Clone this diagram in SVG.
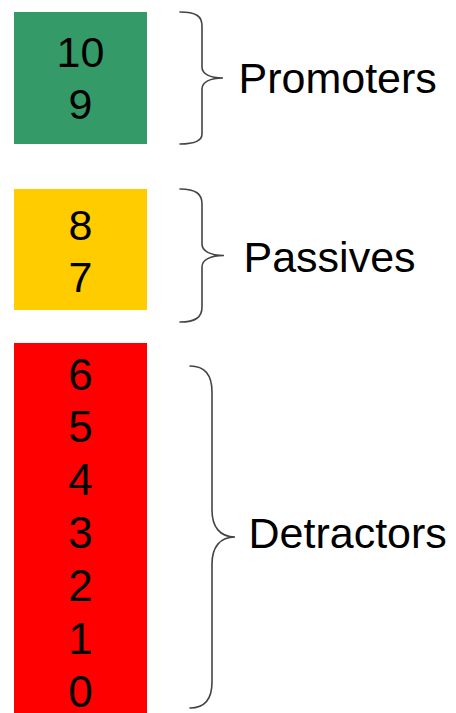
<svg xmlns="http://www.w3.org/2000/svg" width="456" height="713" viewBox="0 0 456 713">
  <style>
    .score { font-family: "Liberation Sans", Arial, sans-serif; font-size: 43px; fill: #000; text-anchor: middle; }
    .score.big { font-size: 44px; }
    .label { font-family: "Liberation Sans", Arial, sans-serif; font-size: 43px; fill: #000; }
    .brace { fill: none; stroke: #444; stroke-width: 1.6; stroke-linecap: round; }
  </style>
  <rect width="456" height="713" fill="#fff"/>

  <!-- score boxes -->
  <g id="promoters">
    <rect x="14" y="12" width="133" height="132" fill="#349a68"/>
    <text class="score" x="80.5" y="67">10</text>
    <text class="score" x="80.5" y="118.6">9</text>
  </g>
  <g id="passives">
    <rect x="14" y="189" width="133" height="121" fill="#ffcc00"/>
    <text class="score" x="80.5" y="240">8</text>
    <text class="score" x="80.5" y="291.6">7</text>
  </g>
  <g id="detractors">
    <rect x="14" y="343" width="133" height="370" fill="#ff0000"/>
    <text class="score big" x="80.5" y="389.5">6</text>
    <text class="score big" x="80.5" y="442.4">5</text>
    <text class="score big" x="80.5" y="495.3">4</text>
    <text class="score big" x="80.5" y="548.2">3</text>
    <text class="score big" x="80.5" y="601.1">2</text>
    <text class="score big" x="80.5" y="654">1</text>
    <text class="score big" x="80.5" y="707">0</text>
  </g>

  <!-- braces grouping each band -->
  <g id="braces">
    <path class="brace" d="M180,12 C196,12 202,16 202,26 L202,67 C202,74 210,78 223,78 C210,78 202,82 202,89 L202,134 C202,140 196,144 180,144"/>
    <path class="brace" d="M180,189 C196,189 202,194 202,204 L202,244 C202,251 210,255.5 224,255.5 C210,255.5 202,260 202,267 L202,307 C202,317 196,322 180,322"/>
    <path class="brace" d="M190,366 C205,366 212,375 212,392 L212,510 C212,527 220,537 235,537 C220,537 212,547 212,564 L212,682 C212,699 205,708 190,708"/>
  </g>

  <!-- category labels -->
  <g id="labels">
    <text class="label" x="238.5" y="93">Promoters</text>
    <text class="label" x="243.5" y="271.7">Passives</text>
    <text class="label" x="248.5" y="548">Detractors</text>
  </g>
</svg>
